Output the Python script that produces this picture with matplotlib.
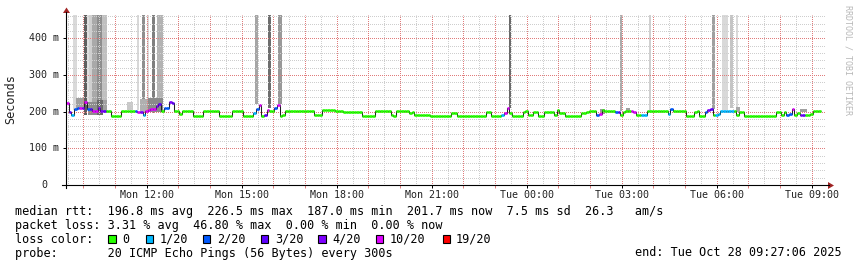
import numpy as np
import matplotlib
matplotlib.use("Agg")
import matplotlib.pyplot as plt
from matplotlib.patches import Rectangle, Polygon
from matplotlib.lines import Line2D
from matplotlib.transforms import Affine2D, blended_transform_factory
from datetime import datetime, timedelta

# ---------------- data ----------------
start_time = datetime(2025, 10, 27, 9, 27, 6)
end_time = datetime(2025, 10, 28, 9, 27, 6)
step_min = 5

# median rtt per 5-minute step (ms)
median_ms = [
    224, 200, 191, 207, 210, 211, 210, 226, 206, 208, 203, 203,
    210, 201, 201, 202, 202, 189, 189, 189, 189, 202, 202, 202,
    202, 202, 202, 200, 200, 192, 203, 204, 208, 208, 215, 222,
    202, 210, 210, 226, 224, 202, 202, 194, 202, 202, 202, 202,
    188, 188, 188, 188, 202, 202, 202, 202, 202, 202, 188, 188,
    188, 188, 188, 202, 202, 202, 202, 188, 188, 188, 188, 196,
    208, 219, 188, 192, 205, 202, 202, 210, 218, 188, 190, 202,
    202, 202, 202, 202, 202, 202, 202, 202, 202, 202, 191, 191,
    191, 205, 205, 205, 205, 205, 202, 202, 202, 200, 200, 200,
    200, 200, 200, 200, 188, 188, 188, 188, 188, 203, 203, 203,
    203, 203, 203, 190, 188, 202, 202, 202, 202, 202, 196, 198,
    190, 190, 190, 190, 190, 190, 187, 187, 187, 187, 187, 187,
    187, 187, 197, 196, 187, 187, 187, 187, 187, 187, 187, 187,
    187, 187, 187, 199, 199, 187, 187, 187, 187, 190, 196, 210,
    196, 188, 188, 188, 188, 200, 203, 191, 191, 199, 199, 188,
    188, 200, 200, 200, 200, 192, 204, 196, 196, 188, 188, 188,
    188, 188, 188, 196, 196, 198, 202, 202, 202, 190, 193, 204,
    202, 202, 202, 202, 198, 198, 192, 198, 203, 203, 203, 198,
    191, 191, 192, 192, 202, 202, 202, 202, 202, 202, 202, 202,
    194, 206, 202, 202, 202, 202, 202, 189, 189, 189, 200, 202,
    189, 189, 200, 205, 206, 190, 190, 193, 202, 202, 202, 202,
    202, 202, 192, 200, 200, 187, 187, 187, 187, 187, 187, 187,
    187, 187, 187, 187, 187, 200, 199, 192, 200, 192, 194, 208,
    192, 195, 190, 190, 192, 192, 194, 203, 203, 203, np.nan, np.nan,
]

# lost pings (of 20) per 5-minute step
loss_pings = [
    10, 3, 1, 2, 2, 10, 4, 10, 2, 3, 10, 10,
    4, 4, 3, 0, 0, 0, 0, 0, 0, 0, 0, 0,
    0, 0, 2, 10, 4, 1, 10, 10, 10, 10, 4, 3,
    0, 2, 2, 4, 3, 0, 0, 0, 0, 0, 0, 0,
    0, 0, 0, 0, 0, 0, 0, 0, 0, 0, 0, 0,
    0, 0, 0, 0, 0, 0, 0, 0, 0, 0, 0, 1,
    2, 10, 0, 3, 10, 0, 0, 2, 10, 0, 0, 0,
    0, 0, 0, 0, 0, 0, 0, 0, 0, 0, 0, 0,
    0, 0, 0, 0, 0, 0, 0, 0, 0, 0, 0, 0,
    0, 0, 0, 0, 0, 0, 0, 0, 0, 0, 0, 0,
    0, 0, 0, 0, 0, 0, 0, 0, 0, 0, 0, 0,
    0, 0, 0, 0, 0, 0, 0, 0, 0, 0, 0, 0,
    0, 0, 0, 0, 0, 0, 0, 0, 0, 0, 0, 0,
    0, 0, 0, 0, 0, 0, 0, 0, 0, 1, 10, 10,
    0, 0, 0, 0, 0, 0, 0, 0, 0, 0, 0, 0,
    0, 0, 0, 0, 0, 0, 0, 0, 0, 0, 0, 0,
    0, 0, 0, 0, 0, 0, 0, 0, 0, 2, 10, 0,
    0, 0, 0, 0, 2, 3, 0, 0, 0, 0, 10, 10,
    0, 0, 1, 1, 0, 0, 0, 0, 0, 0, 0, 0,
    1, 2, 0, 0, 0, 0, 0, 0, 0, 0, 0, 0,
    0, 0, 2, 4, 3, 0, 1, 1, 1, 1, 1, 1,
    1, 0, 0, 0, 0, 0, 0, 0, 0, 0, 0, 0,
    0, 0, 0, 0, 0, 0, 0, 0, 0, 2, 2, 10,
    0, 0, 4, 3, 0, 0, 0, 0, 0, 0, 0, 0,
]

# smoke (spread of individual pings): minutes after start, rtt range (ms), shade
smoke_start_min = [13.8, 34.1, 40.4, 43.6, 49.8, 59.3, 68.8, 134.0, 143.4, 152.9, 162.4,
                   173.0, 358.0, 383.3, 402.2, 840.0, 1049.7, 1104.6, 1223.4, 1242.4,
                   1258.1, 1268.9,
                   18.4, 41.7, 58.7, 70.0, 115.0, 140.0, 155.0, 1012.0, 1061.0, 1270.0, 1391.0]
smoke_end_min = [20.3, 40.4, 43.6, 49.8, 59.3, 68.8, 78.3, 139.0, 149.7, 157.8, 168.6,
                 183.2, 364.0, 387.8, 408.7, 843.8, 1053.5, 1108.4, 1229.7, 1254.9,
                 1263.2, 1272.7,
                 34.1, 58.7, 70.0, 78.3, 127.0, 155.0, 184.0, 1021.0, 1069.0, 1277.0, 1404.0]
smoke_low_ms = [205, 190, 205, 200, 200, 198, 200, 205, 195, 205, 195,
                200, 222, 210, 222, 210, 202, 202, 206, 205,
                210, 205,
                208, 192, 190, 198, 205, 198, 200, 194, 200, 200, 199]
smoke_high_ms = [480, 480, 480, 480, 480, 480, 480, 480, 480, 480, 480,
                 480, 480, 480, 480, 480, 480, 480, 480, 480,
                 480, 480,
                 236, 226, 232, 232, 226, 235, 236, 208, 210, 212, 208]
smoke_grey = ["#dadada", "#5e5e5e", "#e0e0e0", "#cfcfcf", "#a9a9a9", "#8e8e8e", "#c0c0c0",
              "#d8d8d8", "#8f8f8f", "#dcdcdc", "#7f7f7f", "#b3b3b3", "#a5a5a5", "#6e6e6e",
              "#999999", "#6a6a6a", "#ababab", "#d0d0d0", "#a0a0a0", "#d9d9d9", "#c4c4c4",
              "#dadada",
              "#a0a0a0", "#8c8c8c", "#6a6a6a", "#a0a0a0", "#c8c8c8", "#b0b0b0", "#8a8a8a",
              "#9a9a9a", "#a0a0a0", "#a8a8a8", "#a0a0a0"]

loss_thresholds = [0, 1, 2, 3, 4, 10, 19]
loss_labels = ["0", "1/20", "2/20", "3/20", "4/20", "10/20", "19/20"]
loss_colors = ["#26ff00", "#00b8ff", "#0059ff", "#5e00ff", "#7e00ff", "#dd00ff", "#ff0000"]

y_ticks_ms = [0, 100, 200, 300, 400]
y_tick_labels = ["0", "100 m", "200 m", "300 m", "400 m"]
y_max_ms = 463.5

rtt_stats = {"avg": 196.8, "max": 226.5, "min": 187.0, "now": 201.7}
rtt_sd = 7.5
rtt_am_s = 26.3
loss_stats = {"avg": 3.31, "max": 46.80, "min": 0.00, "now": 0.00}
probe_text = "20 ICMP Echo Pings (56 Bytes) every 300s"
y_label = "Seconds"
credit = "RRDTOOL / TOBI OETIKER"

# ---------------- figure ----------------
W, H = 857, 267
FONT = "DejaVu Sans Mono"
fig = plt.figure(figsize=(W / 100, H / 100), dpi=100, facecolor="white")
pix = Affine2D().scale(1.0 / W, -1.0 / H).translate(0, 1) + fig.transFigure

PL, PR, PT, PB = 66, 826, 15, 185
ax = fig.add_axes([PL / W, 1 - PB / H, (PR - PL) / W, (PB - PT) / H])
total_min = (end_time - start_time).total_seconds() / 60
ax.set_xlim(0, total_min)
ax.set_ylim(0, y_max_ms)
for s in ax.spines.values():
    s.set_visible(False)
ax.set_facecolor("white")

# smoke
s0 = np.array(smoke_start_min)
s1 = np.array(smoke_end_min)
lo = np.array(smoke_low_ms, dtype=float)
hi = np.array(smoke_high_ms, dtype=float)
ax.bar(s0, hi - lo, width=s1 - s0, bottom=lo, align="edge", color=smoke_grey,
       linewidth=0, zorder=1)

# grid
hour_offsets, half_offsets, label_ticks = [], [], []
t = start_time.replace(minute=0, second=0) + timedelta(minutes=30)
while t <= end_time:
    off = (t - start_time).total_seconds() / 60
    if off >= 0:
        if t.minute == 0:
            hour_offsets.append(off)
            if t.hour % 3 == 0:
                label_ticks.append((off, t.strftime("%a %H:%M")))
        else:
            half_offsets.append(off)
    t += timedelta(minutes=30)

dot = (0.5, (1.0, 1.0))
GMIN = "#cecece"
GMAJ = "#e07c7c"
gkw = dict(lw=0.72, ls=dot, zorder=2, snap=True, antialiased=True)
for off in half_offsets:
    ax.axvline(off, color=GMIN, **gkw)
for v in range(20, int(y_max_ms) + 1, 20):
    if v % 100:
        ax.axhline(v, color=GMIN, **gkw)
for off in hour_offsets:
    ax.axvline(off, color=GMAJ, **gkw)
for v in range(100, int(y_max_ms) + 1, 100):
    ax.axhline(v, color=GMAJ, **gkw)

# median line
med = np.array(median_ms, dtype=float)
loss = np.array(loss_pings)
n_valid = int(np.sum(~np.isnan(med)))
edges = np.arange(len(med) + 1) * step_min
ax.stairs(med[:n_valid], edges[:n_valid + 1], baseline=None, color="#202020",
          lw=0.75, zorder=3)
cols = []
for l in loss[:n_valid]:
    idx = max(i for i, th in enumerate(loss_thresholds) if l >= th)
    cols.append(loss_colors[idx])
ax.hlines(med[:n_valid], edges[:n_valid], edges[1:n_valid + 1], colors=cols,
          lw=1.9, zorder=4, capstyle="butt")

# ticks
ax.set_xticks([o for o, _ in label_ticks])
ax.set_xticks(hour_offsets, minor=True)
ax.set_yticks(y_ticks_ms)
ax.tick_params(axis="both", which="both", labelbottom=False, labelleft=False)
ax.tick_params(axis="x", which="major", length=2.5, width=0.72, color="black", direction="out")
ax.tick_params(axis="x", which="minor", length=2.0, width=0.72, color="#e08080", direction="out")
ax.tick_params(axis="y", which="major", length=2.5, width=0.72, color="black", direction="out")

bx = blended_transform_factory(ax.transData, pix)
for off, lab in label_ticks:
    fig.text(off, 198.3, lab, transform=bx, family=FONT, size=7.2, ha="center",
             va="baseline", color="#222222")
by = blended_transform_factory(pix, ax.transData)
for v, lab in zip(y_ticks_ms, y_tick_labels):
    xr = 59.0 if " " in lab else 47.3
    fig.text(xr, v, lab, transform=by, family=FONT, size=7.2, ha="right", va="center",
             color="#222222")

# axis lines + arrows
fig.add_artist(Line2D([66.5, 66.5], [188, 12], transform=pix, color="black", lw=0.8))
fig.add_artist(Line2D([62, 829], [185.3, 185.3], transform=pix, color="black", lw=0.8))
fig.add_artist(Polygon([(63, 13), (70, 13), (66.5, 7.5)], closed=True, transform=pix,
                       facecolor="#a02424", edgecolor="none"))
fig.add_artist(Polygon([(828, 182), (828, 189), (834, 185.5)], closed=True, transform=pix,
                       facecolor="#a02424", edgecolor="none"))

# labels
fig.text(11, 99, y_label, transform=pix, family=FONT, size=8.5, rotation=90,
         ha="center", va="center", color="#222222")
fig.text(848.5, 60, credit, transform=pix, family=FONT, size=6.0, rotation=270,
         ha="center", va="center", color="#b8b8b8")

# legend
line1 = ("median rtt:  %.1f ms avg  %.1f ms max  %.1f ms min  %.1f ms now  %.1f ms sd  %.1f   am/s"
         % (rtt_stats["avg"], rtt_stats["max"], rtt_stats["min"], rtt_stats["now"], rtt_sd, rtt_am_s))
line2 = ("packet loss: %.2f %% avg  %.2f %% max  %.2f %% min  %.2f %% now"
         % (loss_stats["avg"], loss_stats["max"], loss_stats["min"], loss_stats["now"]))
kw = dict(transform=pix, family=FONT, size=8.5, ha="left", va="baseline", color="black")
fig.text(15.5, 215.5, line1, **kw)
fig.text(15.5, 229.2, line2, **kw)
fig.text(15.5, 242.9, "loss color:", **kw)
fig.text(15.5, 256.6, "probe:       " + probe_text, **kw)
fig.text(842, 256.4, "end: " + end_time.strftime("%a %b %d %H:%M:%S %Y"), transform=pix,
         family=FONT, size=8.5, ha="right", va="baseline", color="black")

box_x = [108.3, 145.7, 202.7, 261.0, 318.3, 375.7, 442.7]
lab_x = [122.7, 159.4, 216.7, 275.4, 332.1, 390.1, 456.1]
for bxp, lxp, col, lab in zip(box_x, lab_x, loss_colors, loss_labels):
    fig.add_artist(Rectangle((bxp, 235.3), 7.5, 8, transform=pix, facecolor=col,
                             edgecolor="black", lw=0.8))
    fig.text(lxp, 242.9, lab, **kw)

fig.savefig("out.png", dpi=100, facecolor="white")
